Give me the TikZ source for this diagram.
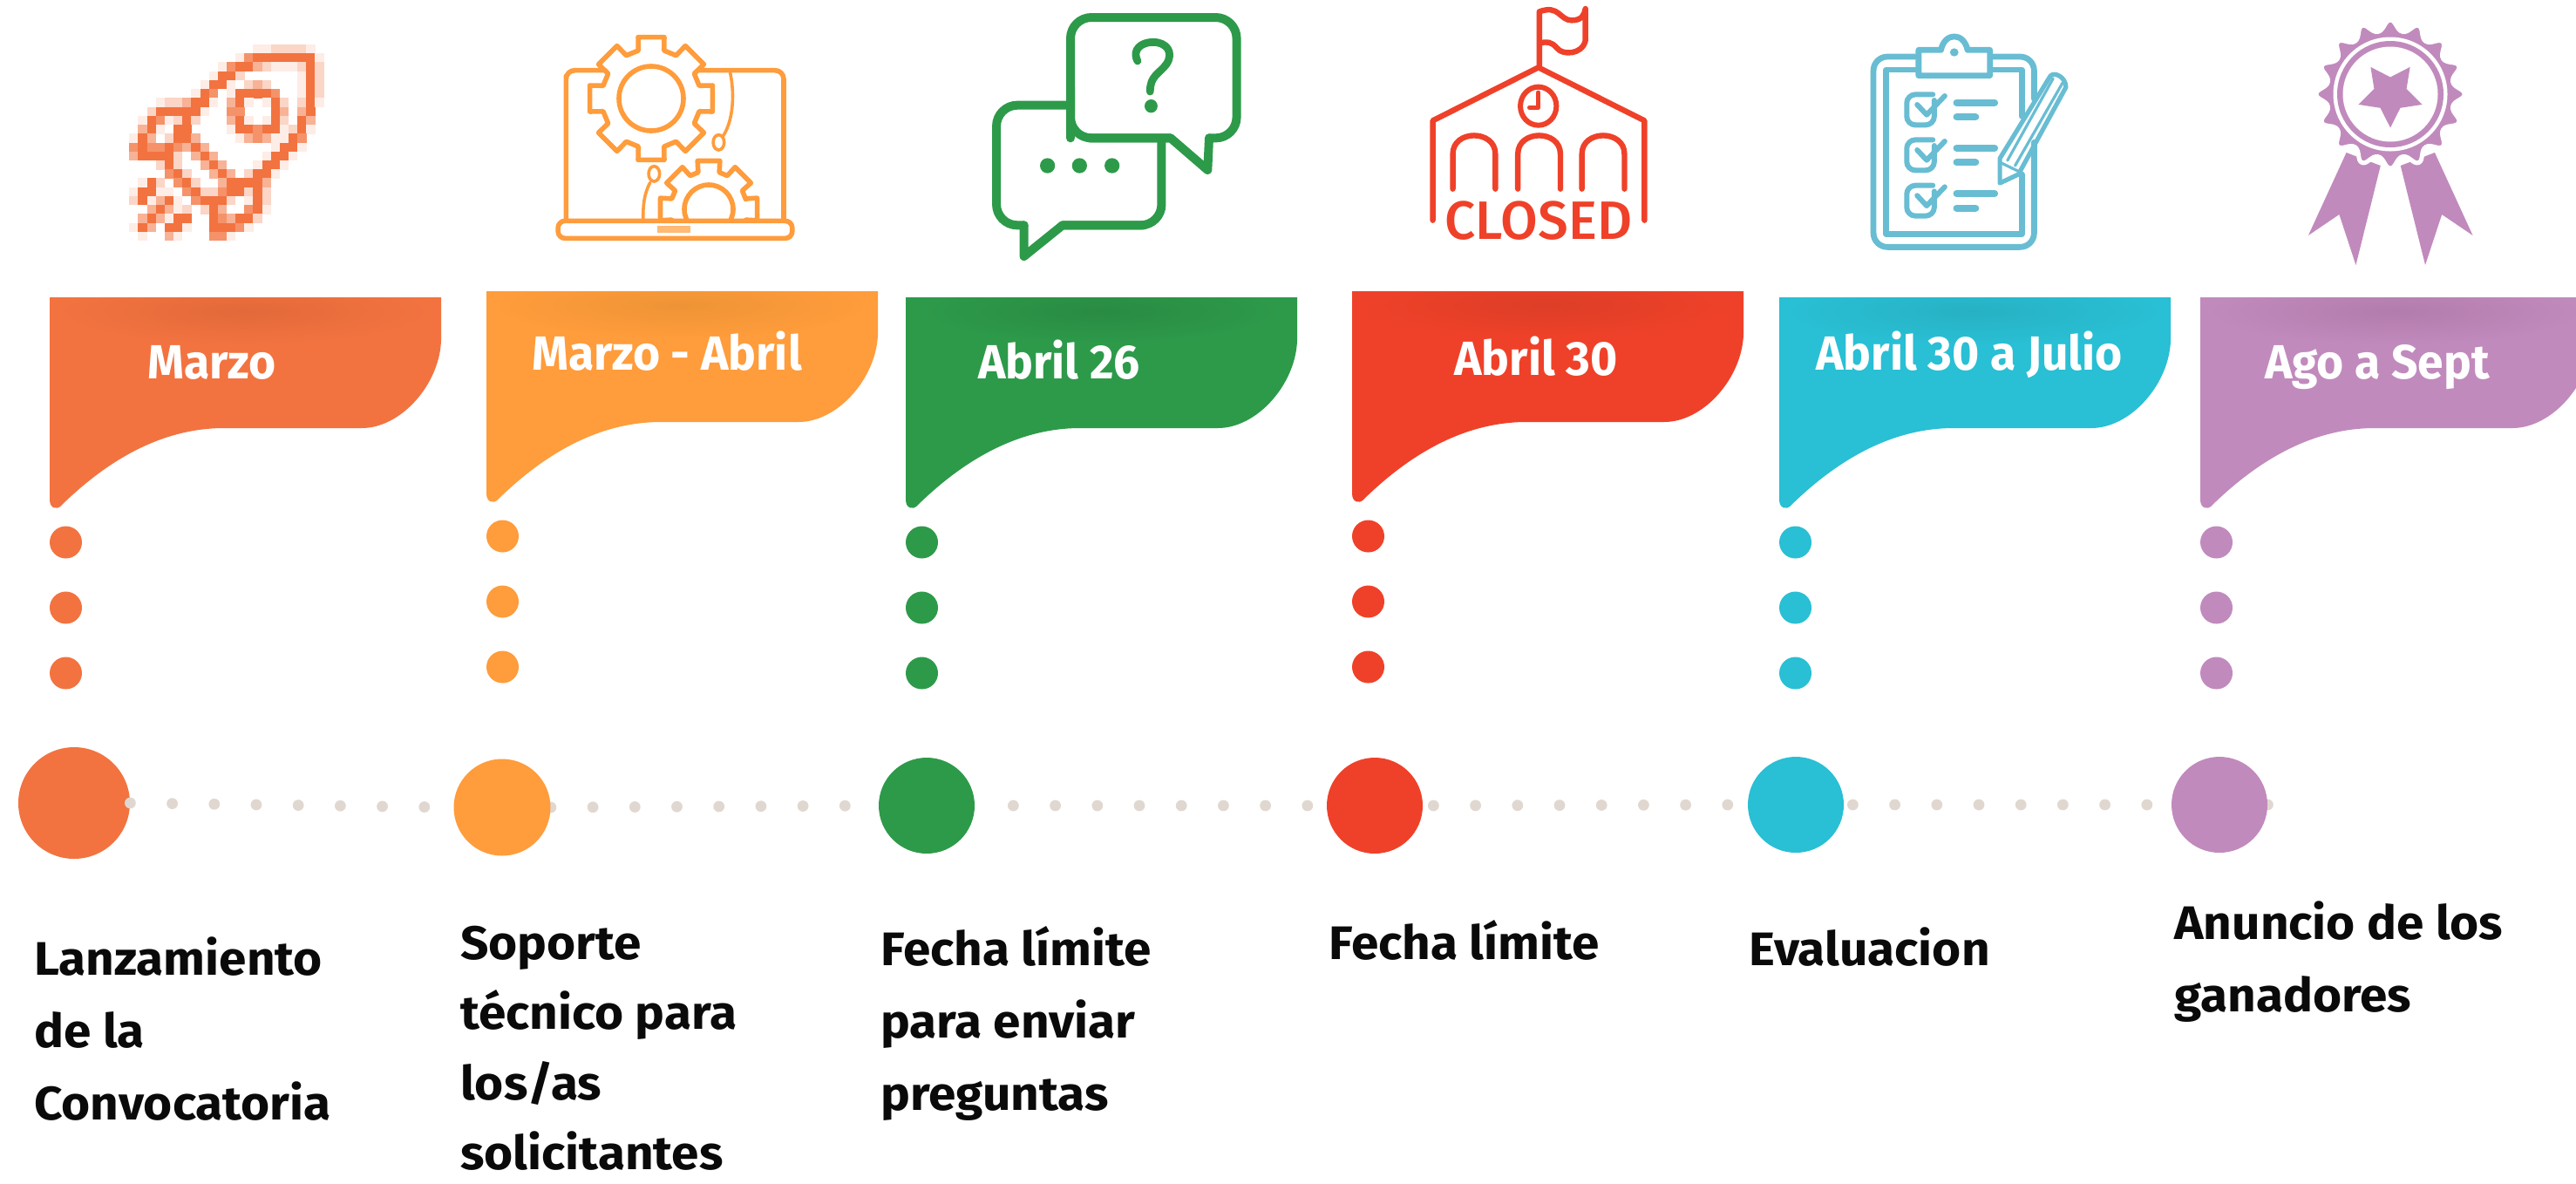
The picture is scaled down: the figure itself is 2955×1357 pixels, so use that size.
\documentclass[tikz,border=0pt]{standalone}
\usepackage{fontspec}
\usetikzlibrary{backgrounds}
\setmainfont{Fira Sans}
\newfontfamily\lblfam{Fira Sans}[FakeStretch=1.05]
\newfontfamily\ttlfam{Fira Sans}[FakeStretch=0.97]
\newfontfamily\medfam{Fira Sans Medium}
\definecolor{cA}{HTML}{F27340}\definecolor{dA}{HTML}{E3693A}
\definecolor{cB}{HTML}{FF9C3B}\definecolor{dB}{HTML}{EE9436}
\definecolor{cC}{HTML}{2D9A4A}\definecolor{dC}{HTML}{298B42}
\definecolor{cD}{HTML}{EF4129}\definecolor{dD}{HTML}{DD3E27}
\definecolor{cE}{HTML}{29BFD4}\definecolor{dE}{HTML}{27B1C4}
\definecolor{cF}{HTML}{C18ABD}\definecolor{dF}{HTML}{B27CAB}
\definecolor{cClip}{HTML}{68BDD3}
\definecolor{cTl}{HTML}{E0D8D0}
\definecolor{cTxt}{HTML}{0A0A0A}
\tikzset{
  bigdot/.style={circle,inner sep=0pt,draw=none,fill=#1},
  smalldot/.style={circle,inner sep=0pt,minimum size=18.5pt,draw=none,fill=#1},
  tl/.style={draw=cTl,line width=6.4pt,line cap=round,dash pattern=on 0pt off 24.1pt},
  ttl/.style={text=white,anchor=base,inner sep=0pt,font=\ttlfam\bfseries\fontsize{27.5}{30}\selectfont},
  lbl/.style={text=cTxt,anchor=base west,inner sep=0pt,font=\lblfam\bfseries\fontsize{27}{41.65}\selectfont},
  icon/.style={line join=round,line cap=round},
}
\newcommand\lblv[2][41.65pt]{\vtop{\baselineskip=#1\lineskiplimit=-100pt #2}}
\newcommand\lline[1]{\hbox{#1}}
\newcommand\flagpath{(0,0) -- (449,0) -- (449,50) .. controls (447,100) and (403,150) .. (358,150) -- (200,150) .. controls (150,150) and (85,168) .. (12,240) .. controls (9,243) and (0,243) .. (0,232) -- cycle}
\newcommand\flagshape[4]{%
  \begin{scope}[shift={(#1,#2)}]
    \fill[#3] \flagpath;
    \begin{scope}
      \clip \flagpath;
      \shade[inner color=#4,outer color=#3] (223,16) ellipse (215 and 38);
    \end{scope}
  \end{scope}}
\newcount\rkc
\makeatletter
\newcommand\pixrow[2]{%
  \rkc=0
  \@tfor\rkch:=#2\do{%
    \ifnum\rkch>0
      \ifcase\rkch\or\def\rkp{13}\or\def\rkp{30}\or\def\rkp{55}\or\def\rkp{78}\or\def\rkp{100}\fi
      \fill[cA!\rkp!white] ({148.3+10.15*\the\rkc},{51+10.23*#1}) rectangle ({148.3+10.15*\the\rkc+10.4},{51+10.23*#1+10.5});
    \fi
    \advance\rkc by 1
  }}
\makeatother
\begin{document}
\begin{tikzpicture}[x=0.5pt,y=-0.5pt]
\useasboundingbox (0,0) rectangle (2955,1357);
\clip (0,0) rectangle (2955,1357);

% ---------- rocket (raster look) ----------
\pixrow{0}{0000000000000011222210}
\pixrow{1}{0000000000001455555551}
\pixrow{2}{0000000000145532111252}
\pixrow{3}{0000000001552000000152}
\pixrow{4}{0000000015510232000152}
\pixrow{5}{0000000154015555400152}
\pixrow{6}{0001223551035101520251}
\pixrow{7}{0025555510044000530350}
\pixrow{8}{0154125200035101520530}
\pixrow{9}{0351055000015545512510}
\pixrow{10}{1530255300001343115400}
\pixrow{11}{4544543530000000155100}
\pixrow{12}{3555520353000001551000}
\pixrow{13}{0002520035300015510000}
\pixrow{14}{0000452003530255100000}
\pixrow{15}{0152045200355553000000}
\pixrow{16}{1551104522455252000000}
\pixrow{17}{2513510455520152000000}
\pixrow{18}{0035312025300451000000}
\pixrow{19}{0353155005435520000000}
\pixrow{20}{1530551005554100000000}
\pixrow{21}{0100310004410000000000}

% ---------- laptop and gears ----------
\begin{scope}[icon,draw=cB,line width=2.8pt]
  \begin{scope}[xshift=50pt,x=0.287pt,y=-0.16667pt]
    \draw[cB] (957,755) -- (957,262) [rounded corners=5pt] -- (957,242) -- (1035,242);
    \draw[cB,rounded corners=5pt] (1220,242) -- (1392,242) -- (1392,755);
    \draw[cB,line width=1.8pt] (1285,250) .. controls (1295,330) and (1290,420) .. (1270,470);
    \draw[cB,line width=1.8pt] (1262,490) ellipse (11 and 26);
    \draw[cB,line width=1.8pt] (1133,598) ellipse (11 and 26);
    \draw[cB,line width=1.8pt] (1125,628) .. controls (1112,670) and (1111,710) .. (1111,755);
    \draw[cB,rounded corners=4pt] (941,760) rectangle (1409,820);
    \fill[cB!70!white] (1140,778) rectangle (1205,800);
  \end{scope}
  \begin{scope}[shift={(747,113)}]
    \draw[cB,line width=2.8pt] (-15:57) \foreach \a in {0,45,...,315} { -- ({\a-15}:57) -- ({\a-12}:72) -- ({\a+12}:72) -- ({\a+15}:57) } -- cycle;
    \draw[cB] (0,0) circle (37);
  \end{scope}
  \begin{scope}
    \clip (640,170) rectangle (900,252);
    \begin{scope}[shift={(813,240)}]
      \draw[cB,line width=2.8pt] (-15:44) \foreach \a in {0,45,...,315} { -- ({\a-16}:44) -- ({\a-13}:57) -- ({\a+13}:57) -- ({\a+16}:44) } -- cycle;
      \draw[cB] (0,0) circle (28);
    \end{scope}
  \end{scope}
\end{scope}

% ---------- chat bubbles ----------
\begin{scope}[xshift=550pt,x=0.287pt,y=-0.16667pt,icon]
  \draw[cC,line width=5pt,rounded corners=12pt] (223,475) -- (223,60) -- (555,60) -- (555,475) -- (500,475);
  \draw[cC,line width=5pt] (500,475) -- (497,585) -- (423,475) -- (260,475);
  \draw[cC,line width=5pt,rounded corners=12pt] (423,475) -- (223,475) -- (223,300);
  \draw[cC,line width=5pt,rounded corners=12pt] (217,362) -- (75,362) -- (75,775) -- (130,775);
  \draw[cC,line width=5pt] (130,775) -- (130,882) -- (207,775) -- (370,775);
  \draw[cC,line width=5pt,rounded corners=12pt] (207,775) -- (405,775) -- (405,490);
  \fill[cC] (177,570) ellipse (15 and 26) (241,570) ellipse (15 and 26) (306,570) ellipse (15 and 26);
  \draw[cC,line width=4.4pt] (357,210) .. controls (345,170) and (365,145) .. (388,145) .. controls (415,145) and (430,180) .. (415,220) .. controls (400,255) and (382,260) .. (382,315);
  \fill[cC] (384,365) ellipse (13 and 23);
\end{scope}

% ---------- closed school ----------
\begin{scope}[xshift=550pt,x=0.287pt,y=-0.16667pt,icon]
  \draw[cD,line width=3.2pt] (1160,225) -- (1160,40) .. controls (1200,15) and (1200,70) .. (1225,70) .. controls (1245,70) and (1250,50) .. (1252,30) -- (1252,140) .. controls (1245,190) and (1205,190) .. (1195,165) .. controls (1185,145) and (1175,140) .. (1160,150);
  \draw[cD,line width=3.2pt] (947,758) -- (947,415) -- (1158,232) -- (1370,415) -- (1370,758);
  \draw[cD,line width=3pt] (1158,365) ellipse (36 and 66);
  \draw[cD,line width=2.4pt] (1158,318) -- (1158,370) -- (1140,370);
  \foreach \ax in {987,1117,1245}{
    \draw[cD,line width=3.2pt] (\ax,650) -- (\ax,530) .. controls (\ax,445) and (\ax+85,445) .. (\ax+85,530) -- (\ax+85,650);
  }
\end{scope}
\node[text=cD,inner sep=0pt,anchor=base,font=\medfam\fontsize{31}{31}\selectfont] (closedword) at (1765,274) {CLOSED};

% ---------- clipboard ----------
\begin{scope}[xshift=1050pt,x=0.2726pt,y=-0.16667pt,icon]
  \draw[cClip,line width=3.4pt,rounded corners=8pt] (178,195) -- (90,195) -- (90,850) -- (428,850) -- (428,490);
  \draw[cClip,line width=3.4pt,rounded corners=8pt] (340,195) -- (428,195) -- (428,340);
  \draw[cClip,line width=3.4pt] (178,240) -- (117,240) -- (117,805) -- (402,805) -- (402,600);
  \draw[cClip,line width=3.4pt] (340,240) -- (402,240) -- (402,400);
  \draw[cClip,line width=3.4pt] (232,172) -- (185,172) -- (185,260) -- (335,260) -- (335,172) -- (288,172) .. controls (280,110) and (240,110) .. (232,172);
  \fill[cClip] (260,180) ellipse (9 and 14);
  \foreach \yo in {0,156,313}{
    \begin{scope}[yshift=-\yo*0.16667pt]
      \draw[cClip,line width=3pt,rounded corners=5pt] (218,345) -- (218,430) -- (160,430) -- (160,325) -- (215,325);
      \draw[cClip,line width=3pt] (182,360) -- (202,395) -- (240,330);
      \draw[cClip,line width=4pt] (265,353) -- (345,353);
      \draw[cClip,line width=4pt] (265,403) -- (305,403);
    \end{scope}
  }
  \draw[cClip,line width=2.6pt] (356,545) -- (462,262) .. controls (470,245) and (495,265) .. (495,300) -- (395,600) -- (356,630) -- cycle;
  \draw[cClip,line width=1.6pt] (372,552) -- (468,270);
  \draw[cClip,line width=1.6pt] (388,570) -- (488,285);
  \draw[cClip,line width=1.6pt] (358,560) -- (396,590);
\end{scope}

% ---------- rosette ----------
\begin{scope}[xshift=1050pt,x=0.2726pt,y=-0.16667pt]
  \fill[cF] (1085,525) -- (1005,810) -- (1070,738) -- (1105,912) -- (1157,570) -- cycle;
  \fill[cF] (1271,525) -- (1351,810) -- (1286,738) -- (1251,912) -- (1199,570) -- cycle;
\end{scope}
\begin{scope}[shift={(2742,108)}]
  \newcommand\rosette{plot[smooth cycle,tension=0.8] coordinates {(90:85) (101.25:73) (112.5:85) (123.75:73) (135:85) (146.25:73) (157.5:85) (168.75:73) (180:85) (191.25:73) (202.5:85) (213.75:73) (225:85) (236.25:73) (247.5:85) (258.75:73) (270:85) (281.25:73) (292.5:85) (303.75:73) (315:85) (326.25:73) (337.5:85) (348.75:73) (0:85) (11.25:73) (22.5:85) (33.75:73) (45:85) (56.25:73) (67.5:85) (78.75:73)}}
  \fill[cF,draw=white,line width=2.5pt] \rosette;
  \fill[white] (0,0) circle (65.5);
  \fill[cF] (0,0) circle (61);
  \fill[white] (0,0) circle (54.5);
  \fill[cF,line join=round] (90:38.5) -- (126:19.5) -- (162:38.5) -- (198:19.5) -- (234:38.5) -- (270:19.5) -- (306:38.5) -- (342:19.5) -- (18:38.5) -- (54:19.5) -- cycle;
\end{scope}

% ---------- flags ----------
\flagshape{57}{341}{cA}{dA}
\flagshape{558}{334}{cB}{dB}
\flagshape{1039}{341}{cC}{dC}
\flagshape{1551}{334}{cD}{dD}
\flagshape{2041}{341}{cE}{dE}
\flagshape{2524}{341}{cF}{dF}

\node[ttl] (f1) at (243,434) {Marzo};
\node[ttl] (f2) at (765,424) {Marzo - Abril};
\node[ttl] (f3) at (1215,434) {Abril 26};
\node[ttl] (f4) at (1762,430) {Abril 30};
\node[ttl] (f5) at (2259,424) {Abril 30 a Julio};
\node[ttl] (f6) at (2727,434) {Ago a Sept};

% ---------- small dots ----------
\foreach \nm/\px/\py/\cc in {a/75.5/622/cA,b/576.5/615/cB,c/1057.5/622/cC,d/1569.5/615/cD,e/2059.5/622/cE,f/2542.5/622/cF}{
  \node[smalldot=\cc] (\nm1) at (\px,\py) {};
  \node[smalldot=\cc] (\nm2) at (\px,\py+75) {};
  \node[smalldot=\cc] (\nm3) at (\px,\py+150) {};
}

% ---------- timeline ----------
\node[bigdot=cA,minimum size=64pt] (c1) at (85,921) {};
\node[bigdot=cB,minimum size=55.5pt] (c2) at (576,926) {};
\node[bigdot=cC,minimum size=55pt] (c3) at (1063,924) {};
\node[bigdot=cD,minimum size=55pt] (c4) at (1577,924) {};
\node[bigdot=cE,minimum size=55pt] (c5) at (2060,923) {};
\node[bigdot=cF,minimum size=55pt] (c6) at (2546,923) {};
\coordinate (tlend) at (2613,923);
\draw[tl] (c1.east) -- (c2.west);
\begin{scope}[on background layer]
  \draw[tl] (c2.east) -- (c3.west);
  \draw[tl,dash phase=2.1pt] (c3.east) -- (c4.west);
  \draw[tl,dash phase=18.1pt] (c4.east) -- (c5.west);
  \draw[tl,dash phase=19.1pt] (c5.east) -- (c6.west);
  \draw[tl] (c6.east) -- (tlend);
\end{scope}

% ---------- labels ----------
\node[lbl] (l1) at (39,1118) {\lblv{\lline{Lanzamiento}\lline{de la}\lline{Convocatoria}}};
\node[lbl] (l2) at (528,1100) {\lblv[40.3pt]{\lline{Soporte}\lline{técnico para}\lline{los/as}\lline{solicitantes}}};
\node[lbl] (l3) at (1010,1107) {\lblv{\lline{Fecha límite}\lline{para enviar}\lline{preguntas}}};
\node[lbl] (l4) at (1524,1100) {\lblv{\lline{Fecha límite}}};
\node[lbl] (l5) at (2006,1107) {\lblv{\lline{Evaluacion}}};
\node[lbl] (l6) at (2494,1077) {\lblv{\lline{Anuncio de los}\lline{ganadores}}};
\end{tikzpicture}
\end{document}
